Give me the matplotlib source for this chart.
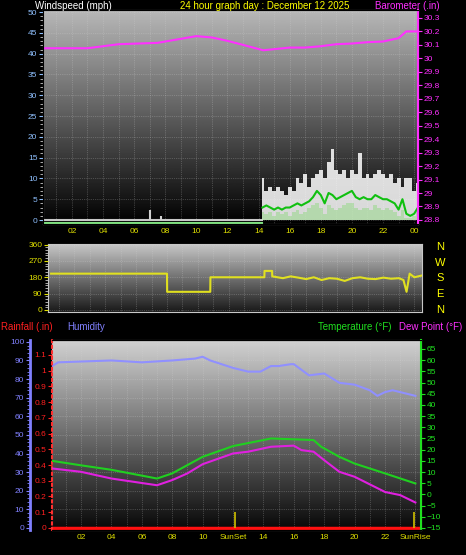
import numpy as np
import matplotlib.pyplot as plt

# ---- data ----
baro_h = [0, 3, 4, 5, 7.5, 10, 11, 12, 13, 14.3, 16, 17, 18, 19, 20, 21, 22, 23, 23.5, 24.25]
baro = [30.075, 30.075, 30.09, 30.105, 30.115, 30.165, 30.155, 30.13, 30.10, 30.06, 30.08,
        30.08, 30.09, 30.105, 30.11, 30.12, 30.125, 30.15, 30.20, 30.20]

wind_h = [14.25, 14.5, 14.75, 15, 15.25, 15.5, 15.75, 16, 16.25, 16.5, 16.75, 17, 17.25, 17.5,
          17.75, 18, 18.25, 18.5, 18.75, 19, 19.25, 19.5, 19.75, 20, 20.25, 20.5, 20.75, 21,
          21.25, 21.5, 21.75, 22, 22.25, 22.5, 22.75, 23, 23.25, 23.5, 23.75, 24, 24.25]
gust = [10, 7, 8, 7, 8, 7, 6, 8, 7, 10, 9, 11, 8, 10, 11, 12, 10, 14, 17, 12, 11, 12, 10, 12,
        11, 16, 10, 11, 10, 11, 12, 11, 10, 11, 9, 10, 8, 10, 10, 7, 9]
avg = [3, 3.5, 3, 2.5, 3, 2.5, 3, 3, 3.5, 4, 3.5, 4, 4.5, 5.5, 7, 6, 4, 6.5, 6, 5, 5.5, 6,
       6.5, 7, 5.5, 5, 5.5, 5, 5, 6, 5.5, 5, 5, 4.5, 4, 2.5, 5, 1.5, 1, 1.5, 3]
lull = [2, 1.5, 2, 1, 2, 1.5, 2, 1, 2, 2.5, 1.5, 2, 3, 3.5, 4, 3, 1.5, 3.5, 3, 2.5, 3, 3.5,
        4, 4, 3, 2.5, 3, 3, 2.5, 3.5, 3, 2.5, 3, 2.5, 2, 1, 2.5, 0.5, 0.5, 1, 2]
spike_h = [7.0, 7.7]
spike_v = [2.5, 1.0]

dir_h = [0.5, 8.0, 8.01, 10.8, 10.81, 14.3, 14.31, 14.8, 14.81, 15.5, 16, 16.5, 17, 17.5, 18,
         18.5, 19, 19.5, 20, 20.5, 21, 21.5, 22, 22.5, 23, 23.3, 23.5, 23.7, 24, 24.5]
wdir = [200, 200, 100, 100, 180, 180, 215, 215, 185, 175, 185, 178, 170, 180, 165, 175, 172,
        160, 175, 180, 172, 170, 178, 172, 175, 165, 100, 200, 180, 190]

hum_h = [0.1, 0.5, 4, 6, 8, 9.5, 10, 10.5, 12, 13, 13.8, 14.5, 15, 15.8, 16, 17, 18, 19, 20,
         21, 21.5, 22, 22.5, 23, 24]
hum = [87, 89, 90, 89, 90, 91, 92, 90, 86, 84, 84, 87, 87, 88, 88, 82, 83, 78, 77, 74, 71,
       73, 74, 73, 71]
temp_h = [0.1, 2, 4, 7, 8, 10, 12, 14, 14.5, 17.3, 17.8, 19, 20, 22, 24]
temp = [15, 13, 11, 7.1, 9.4, 16.8, 21.6, 24.3, 25, 24.3, 21.3, 16.8, 13.8, 9.4, 4.9]
dew_h = [0.1, 2, 4, 7, 8, 9, 10, 12, 13, 14.5, 16, 16.5, 17.3, 18, 19, 20, 22, 23, 24]
dew = [11.6, 10.1, 7.1, 4.1, 6.4, 9.4, 13.5, 18.3, 19.1, 21.3, 21.8, 19.8, 19.1, 15.3, 10.1,
       7.9, 1.1, -0.3, -3.6]
sun_h = [12.1, 23.9]

W, H = 466, 555
fig = plt.figure(figsize=(W / 100, H / 100), dpi=100, facecolor='black')
plt.rcParams['font.family'] = ['Liberation Sans', 'DejaVu Sans']
FS = 7


def box(x0, x1, y0, y1):
    return [x0 / W, 1 - y1 / H, (x1 - x0) / W, (y1 - y0) / H]


def background(ax, top, bot):
    g = np.linspace(top, bot, 256).reshape(-1, 1)
    ax.imshow(g, cmap='gray', vmin=0, vmax=1, aspect='auto', extent=[0, 1, 0, 1],
              transform=ax.transAxes, zorder=0)
    ax.set_facecolor('black')
    for s in ax.spines.values():
        s.set_color('#c8c8c8')
    ax.grid(True, color='#d8d8d8', linestyle=':', linewidth=0.5, alpha=0.45)
    ax.set_axisbelow(False)


# ---- top: wind + barometer ----
ax1 = fig.add_axes(box(43, 418, 10, 224))
background(ax1, 0.72, 0.0)
ax1.set_xlim(0.14, 24.25)
ax1.set_ylim(-0.96, 50.5)
ax1.set_xticks(range(1, 25))
ax1.set_xticklabels(['%02d' % (h % 24) if h % 2 == 0 else '' for h in range(1, 25)])
ax1.set_yticks(range(0, 51, 5))
ax1.tick_params(axis='x', colors='#e0e000', labelsize=6, length=0, pad=3)
ax1.tick_params(axis='y', colors='#8fc0ff', labelsize=6, length=3, pad=1)
ax1.yaxis.set_minor_locator(plt.MultipleLocator(1))
ax1.tick_params(axis='y', which='minor', colors='#c8c8c8', length=2)
ax1.plot([0.14, 14.2], [0, 0], color='#c8c8c8', lw=1.5, zorder=3)
ax1.plot([0.14, 14.2], [-0.6, -0.6], color='#80e080', lw=1.5, zorder=3)
ax1.vlines(spike_h, 0, spike_v, color='#d0d0d0', lw=1.5, zorder=3)
ax1.fill_between(wind_h, lull, gust, step='mid', color='white', alpha=0.85, lw=0, zorder=3)
ax1.fill_between(wind_h, 0, lull, step='mid', color='#c8f0c0', alpha=0.9, lw=0, zorder=3)
ax1.plot(wind_h, avg, color='#10c010', lw=1.5, zorder=4)
ax1b = ax1.twinx()
ax1b.set_ylim(28.77, 30.359)
bt = np.round(np.arange(28.8, 30.31, 0.1), 1)
ax1b.set_yticks(bt)
ax1b.set_yticklabels(['%g' % v for v in bt])
ax1b.tick_params(axis='y', colors='#ff30ff', labelsize=6, length=3, pad=1)
ax1b.spines['right'].set_color('#ff30ff')
ax1b.spines['right'].set_linewidth(1.5)
ax1b.plot(baro_h, baro, color='#ff30ff', lw=1.5)
fig.text(35 / W, 1 - 6 / H, 'Windspeed (mph)', color='white', fontsize=FS, va='center')
fig.text(265 / W, 1 - 6 / H, '24 hour graph day : December 12 2025', color='#ffff00',
         fontsize=FS, va='center', ha='center')
fig.text(440 / W, 1 - 6 / H, 'Barometer (.in)', color='#ff30ff', fontsize=FS, va='center',
         ha='right')

# ---- middle: wind direction ----
ax2 = fig.add_axes(box(48, 422, 244, 312))
background(ax2, 0.78, 0.1)
ax2.set_xlim(0.3, 24.5)
ax2.set_ylim(-11, 363)
ax2.set_xticks(range(1, 25))
ax2.set_xticklabels([])
ax2.tick_params(axis='x', length=0)
ax2.set_yticks([0, 90, 180, 270, 360])
ax2.tick_params(axis='y', colors='#e0e000', labelsize=6, length=3, pad=1)
ax2.yaxis.set_minor_locator(plt.MultipleLocator(15))
ax2.tick_params(axis='y', which='minor', colors='#c8c8c8', length=2)
ax2.plot(dir_h, wdir, color='#e0e020', lw=1.5, zorder=3)
for v, c in zip([360, 270, 180, 90, 0], 'NWSEN'):
    y = 310 - v / 90 * 15.8
    fig.text(440 / W, 1 - y / H, c, color='#ffff00', fontsize=8, ha='center', va='center')

# ---- bottom: humidity / rain / temperature ----
ax3 = fig.add_axes(box(52, 421, 340, 530))
background(ax3, 0.82, 0.03)
ax3.set_xlim(0.09, 24.37)
ax3.set_ylim(-1.1, 101)
ax3.set_yticks(range(0, 101, 10))
ax3.set_xticks(range(1, 25))
lbls = []
for h in range(1, 25):
    if h == 12:
        lbls.append('SunSet')
    elif h == 24:
        lbls.append('SunRise')
    elif h % 2 == 0:
        lbls.append('%02d' % h)
    else:
        lbls.append('')
ax3.set_xticklabels(lbls)
ax3.tick_params(axis='x', colors='#e0e000', labelsize=6, length=0, pad=3)
ax3.spines['left'].set_position(('outward', 16))
ax3.spines['left'].set_color('#8080ff')
ax3.spines['left'].set_linewidth(2)
ax3.tick_params(axis='y', colors='#8080ff', labelsize=6, length=3, pad=1)
ax3.yaxis.set_minor_locator(plt.MultipleLocator(2))
ax3.tick_params(axis='y', which='minor', colors='#8080ff', length=2)
ax3.plot(hum_h, hum, color='#9090ff', lw=1.5, zorder=3)

ax3r = ax3.twinx()
ax3r.set_ylim(-0.013, 1.195)
ax3r.yaxis.tick_left()
ax3r.spines['left'].set_visible(True)
ax3r.spines['left'].set_color('#ff3030')
ax3r.spines['left'].set_linestyle(':')
ax3r.spines['left'].set_linewidth(1.5)
ax3r.spines['right'].set_visible(False)
rt = np.round(np.arange(0, 1.11, 0.1), 1)
ax3r.set_yticks(rt)
ax3r.set_yticklabels(['%g' % v for v in rt])
ax3r.tick_params(axis='y', colors='#ff2020', labelsize=6, length=3, pad=1)
ax3r.plot([0.09, 24.37], [0, 0], color='#ff1010', lw=2.5)
ax3r.vlines(sun_h, 0, 0.1, color='#d0c000', lw=1.2)

ax3t = ax3.twinx()
ax3t.set_ylim(-15.9, 69)
ax3t.set_yticks(range(-15, 66, 5))
ax3t.spines['right'].set_color('#20e020')
ax3t.spines['right'].set_linewidth(1.5)
ax3t.spines['left'].set_visible(False)
ax3t.tick_params(axis='y', colors='#20e020', labelsize=6, length=3, pad=1)
ax3t.plot(temp_h, temp, color='#20d020', lw=1.5)
ax3t.plot(dew_h, dew, color='#e020e0', lw=1.5)

fig.text(1 / W, 1 - 327 / H, 'Rainfall (.in)', color='#ff2020', fontsize=FS, va='center')
fig.text(67 / W, 1 - 327 / H, 'Humidity', color='#8080ff', fontsize=FS, va='center')
fig.text(391 / W, 1 - 327 / H, 'Temperature (°F)', color='#20e020', fontsize=FS, va='center',
         ha='right')
fig.text(462 / W, 1 - 327 / H, 'Dew Point (°F)', color='#ff30ff', fontsize=FS, va='center',
         ha='right')

fig.savefig('out.png', dpi=100, facecolor='black')
